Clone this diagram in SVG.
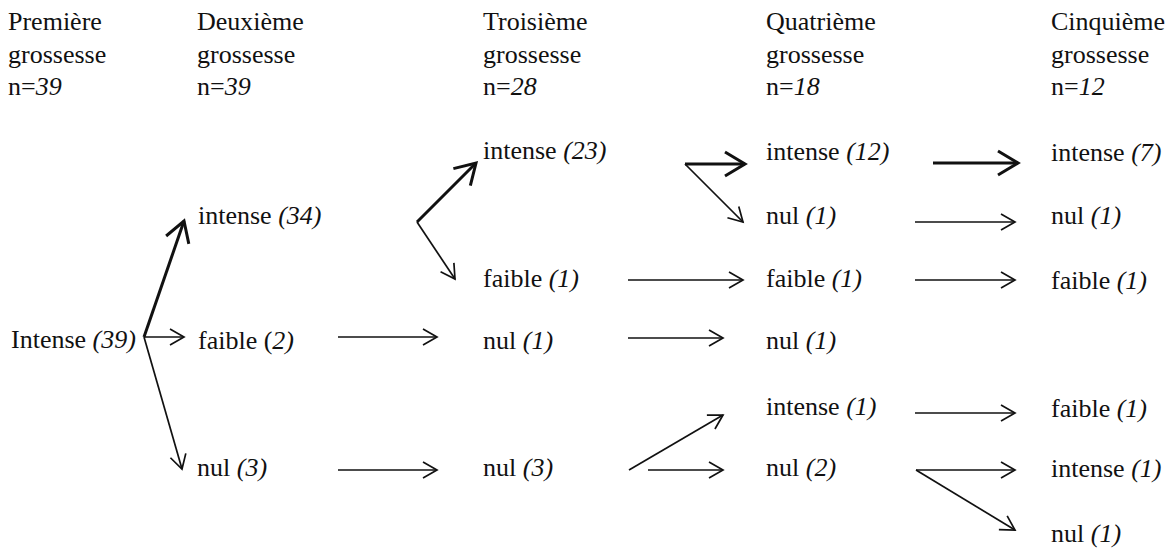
<svg xmlns="http://www.w3.org/2000/svg" width="1175" height="551" viewBox="0 0 1175 551">
<style>
text{font-family:"Liberation Serif","Times New Roman",serif;font-size:26px;fill:#111}
.i{font-style:italic}
.thin{stroke:#111;stroke-width:1.7;fill:none;marker-end:url(#ah)}
.thick{stroke:#111;stroke-width:3;fill:none;marker-end:url(#ahb)}
</style>
<defs>
<marker id="ah" markerUnits="userSpaceOnUse" viewBox="-20 -14 24 28" markerWidth="24" markerHeight="28" refX="0" refY="0" orient="auto" overflow="visible">
<path d="M-14,-8 L0,0 L-14,8" fill="none" stroke="#111" stroke-width="1.7"/>
</marker>
<marker id="ahb" markerUnits="userSpaceOnUse" viewBox="-24 -16 28 32" markerWidth="28" markerHeight="32" refX="0" refY="0" orient="auto" overflow="visible">
<path d="M-20,-12 L0,0 L-20,12" fill="none" stroke="#111" stroke-width="3"/>
</marker>
</defs>
<g id="headers">
<text x="8" y="30">Première</text><text x="8" y="63">grossesse</text><text x="8" y="95">n=<tspan class="i">39</tspan></text>
<text x="197" y="30">Deuxième</text><text x="197" y="63">grossesse</text><text x="197" y="95">n=<tspan class="i">39</tspan></text>
<text x="483" y="30">Troisième</text><text x="483" y="63">grossesse</text><text x="483" y="95">n=<tspan class="i">28</tspan></text>
<text x="766" y="30">Quatrième</text><text x="766" y="63">grossesse</text><text x="766" y="95">n=<tspan class="i">18</tspan></text>
<text x="1051" y="30">Cinquième</text><text x="1051" y="63">grossesse</text><text x="1051" y="95">n=<tspan class="i">12</tspan></text>
</g>
<g id="n1"><text x="11" y="348">Intense <tspan class="i">(39)</tspan></text></g>
<g id="n2a"><text x="198" y="224">intense <tspan class="i">(34)</tspan></text></g>
<g id="n2b"><text x="198" y="349">faible (<tspan class="i">2)</tspan></text></g>
<g id="n2c"><text x="197" y="476">nul <tspan class="i">(3)</tspan></text></g>
<g id="n3a"><text x="483" y="159">intense <tspan class="i">(23)</tspan></text></g>
<g id="n3b"><text x="483" y="287">faible <tspan class="i">(1)</tspan></text></g>
<g id="n3c"><text x="483" y="349">nul <tspan class="i">(1)</tspan></text></g>
<g id="n3d"><text x="483" y="476">nul <tspan class="i">(3)</tspan></text></g>
<g id="n4a"><text x="766" y="160">intense <tspan class="i">(12)</tspan></text></g>
<g id="n4b"><text x="766" y="224">nul <tspan class="i">(1)</tspan></text></g>
<g id="n4c"><text x="766" y="287">faible <tspan class="i">(1)</tspan></text></g>
<g id="n4d"><text x="766" y="349">nul <tspan class="i">(1)</tspan></text></g>
<g id="n4e"><text x="766" y="415">intense <tspan class="i">(1)</tspan></text></g>
<g id="n4f"><text x="766" y="476">nul <tspan class="i">(2)</tspan></text></g>
<g id="n5a"><text x="1051" y="161">intense <tspan class="i">(7)</tspan></text></g>
<g id="n5b"><text x="1051" y="224">nul <tspan class="i">(1)</tspan></text></g>
<g id="n5c"><text x="1051" y="289">faible <tspan class="i">(1)</tspan></text></g>
<g id="n5d"><text x="1051" y="417">faible <tspan class="i">(1)</tspan></text></g>
<g id="n5e"><text x="1051" y="477">intense <tspan class="i">(1)</tspan></text></g>
<g id="n5f"><text x="1051" y="542">nul <tspan class="i">(1)</tspan></text></g>
<g id="connectors">
<path class="thick" d="M144,337 L184,221"/>
<path class="thin" d="M144,337 L184,337"/>
<path class="thin" d="M144,337 L182,469"/>
<path class="thin" d="M338,337 L437,337"/>
<path class="thin" d="M338,470 L437,470"/>
<path class="thick" d="M417,222 L476,163"/>
<path class="thin" d="M417,222 L455,279"/>
<path class="thick" d="M685,164 L745,164"/>
<path class="thin" d="M685,164 L743,222"/>
<path class="thin" d="M628,280 L743,280"/>
<path class="thin" d="M628,338 L723,338"/>
<path class="thin" d="M629,470 L723,415"/>
<path class="thin" d="M648,470 L723,470"/>
<path class="thick" d="M933,163 L1018,163"/>
<path class="thin" d="M915,222 L1015,222"/>
<path class="thin" d="M915,280 L1015,280"/>
<path class="thin" d="M915,413 L1015,413"/>
<path class="thin" d="M916,470 L1015,470"/>
<path class="thin" d="M916,470 L1015,530"/>
</g>
</svg>
